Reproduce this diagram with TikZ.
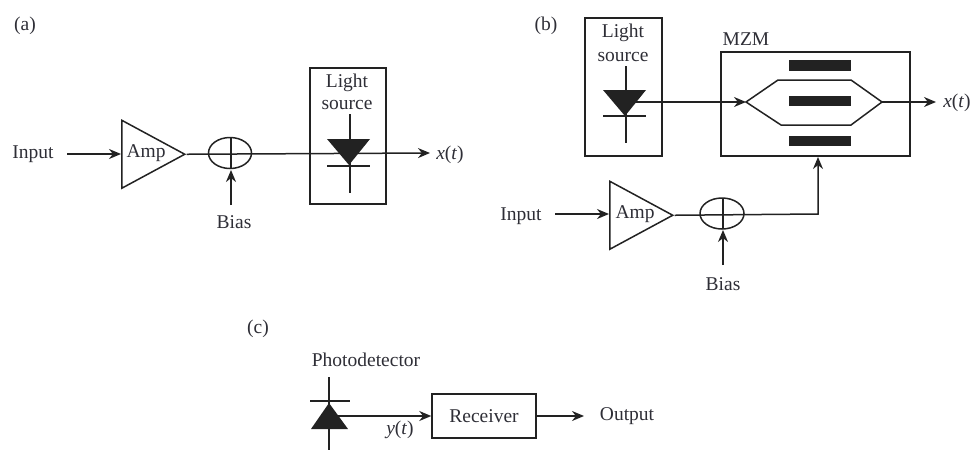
\documentclass[tikz,border=0pt]{standalone}
\usepackage{fontspec}
\setmainfont{Liberation Serif}
\usetikzlibrary{shapes.geometric,arrows.meta}
\definecolor{ink}{HTML}{222222}
\definecolor{txt}{HTML}{2E2E36}
\tikzset{
  x=1pt,y=-1pt,
  lbl/.style={text=txt,inner sep=0pt,yshift=-1.5pt,font=\fontsize{19.5}{22}\selectfont},
  box/.style={draw,rectangle,inner sep=0pt},
  amp/.style={draw,isosceles triangle,isosceles triangle stretches,inner sep=0pt,
    minimum width=68pt,minimum height=63pt,anchor=left corner},
  summer/.style={draw,ellipse,inner sep=0pt,minimum width=43pt,minimum height=31pt},
  conn/.style={-{Stealth[length=12pt,width=10pt]}},
  bar/.style={fill=ink,rectangle,inner sep=0pt,minimum width=62pt}
}
\begin{document}
\begin{tikzpicture}[line width=1.5pt,color=ink]
\useasboundingbox (0,0) rectangle (973,450);
% ---------- (a)
\node[lbl] (alabel) at (25,24) {(a)};
\node[lbl] (ainput) at (33,153) {Input};
\node[amp] (aamp) at (121,119) {};
\node[lbl] (aamptxt) at (146,152) {Amp};
\node[summer] (asum) at (230,153) {};
\coordinate (asumt) at (231,137);
\node[lbl] (abias) at (234,221) {Bias};
\node[box,minimum width=76pt,minimum height=136pt] (alight) at (348,136) {};
\node[lbl] (alt) at (347,81) {Light};
\node[lbl] (als) at (347,103) {source};
\coordinate (adt) at (350,114);
\coordinate (adb) at (350,193);
\coordinate (ad1) at (327,139);
\coordinate (ad2) at (370,139);
\coordinate (ad3) at (349,165);
\coordinate (ab1) at (327,166);
\coordinate (ab2) at (370,166);
\node[lbl] (ax) at (450,153) {\textit{x}(\textit{t})};
\coordinate (aout) at (430,153);
\coordinate (ain) at (67,154);
\coordinate (abs) at (231,205);
\coordinate (abe) at (231,170);
\coordinate (asumb) at (231,169);
\coordinate (aamp-in) at (121,154);
\draw[conn] (ain) -- (aamp-in);
\draw[conn] (aamp.apex) -- (aout);
\draw (asumt) -- (asumb);
\draw[conn] (abs) -- (abe);
\draw (adt) -- (adb);
\draw (ab1) -- (ab2);
\fill[ink] (ad1) -- (ad2) -- (ad3) -- cycle;
% ---------- (b)
\node[lbl] (blabel) at (546,24) {(b)};
\node[box,minimum width=77pt,minimum height=138pt] (blight) at (623.5,87) {};
\node[lbl] (blt) at (623,31) {Light};
\node[lbl] (bls) at (623,55) {source};
\coordinate (bdt) at (626,66);
\coordinate (bdb) at (626,143);
\coordinate (bd1) at (603,90);
\coordinate (bd2) at (646,90);
\coordinate (bd3) at (625,116);
\coordinate (bb1) at (603,116);
\coordinate (bb2) at (646,116);
\coordinate (bdo) at (625,102);
\node[box,minimum width=189pt,minimum height=104pt] (mzm) at (815.5,104) {};
\node[lbl] (mzmt) at (746,38) {MZM};
\node[bar,minimum height=11pt] (bar1) at (820,65.5) {};
\node[bar,minimum height=10pt] (bar2) at (820,100.5) {};
\node[bar,minimum height=10pt] (bar3) at (820,140.5) {};
\coordinate (w0) at (746,102);
\coordinate (w1) at (778,80);
\coordinate (w2) at (851,80);
\coordinate (w3) at (882,102);
\coordinate (w4) at (851,125);
\coordinate (w5) at (781,125);
\coordinate (bout) at (936,102);
\node[lbl] (bx) at (957,101) {\textit{x}(\textit{t})};
\node[lbl] (binput) at (521,215) {Input};
\coordinate (bin) at (555,214);
\coordinate (bamp-in) at (609,214);
\node[amp] (bamp) at (609,180) {};
\node[lbl] (bamptxt) at (635,213) {Amp};
\node[summer,minimum width=44pt] (bsum) at (722,213.5) {};
\coordinate (bsumt) at (723,198);
\coordinate (bsumb) at (723,229);
\coordinate (bbs) at (723,265);
\coordinate (bbe) at (723,230);
\node[lbl] (bbias) at (723,283) {Bias};
\coordinate (bcorner) at (818,214);
\coordinate (bmzmin) at (818,157);
\draw (bdt) -- (bdb);
\draw (bb1) -- (bb2);
\fill[ink] (bd1) -- (bd2) -- (bd3) -- cycle;
\draw[conn] (bdo) -- (w0);
\draw (w0) -- (w1) -- (w2) -- (w3) -- (w4) -- (w5) -- cycle;
\draw[conn] (w3) -- (bout);
\draw[conn] (bin) -- (bamp-in);
\draw[conn] (bamp.apex) -- (bcorner) -- (bmzmin);
\draw (bsumt) -- (bsumb);
\draw[conn] (bbs) -- (bbe);
% ---------- (c)
\node[lbl] (clabel) at (258,327) {(c)};
\node[lbl] (cpd) at (366,358) {Photodetector};
\coordinate (cdt) at (329,377);
\coordinate (cdb) at (329,450);
\coordinate (cb1) at (310,401);
\coordinate (cb2) at (350,401);
\coordinate (cd1) at (329,403);
\coordinate (cd2) at (311,429);
\coordinate (cd3) at (348,429);
\coordinate (cdo) at (338,416);
\node[box,minimum width=104pt,minimum height=44pt] (recv) at (484,416) {};
\node[lbl] (recvt) at (484,415) {Receiver};
\coordinate (cout) at (584,416);
\node[lbl] (coutt) at (627,415) {Output};
\node[lbl] (cy) at (400,428) {\textit{y}(\textit{t})};
\draw (cdt) -- (cdb);
\draw (cb1) -- (cb2);
\fill[ink] (cd1) -- (cd2) -- (cd3) -- cycle;
\draw[conn] (cdo) -- (recv.west);
\draw[conn] (recv.east) -- (cout);
\end{tikzpicture}
\end{document}
